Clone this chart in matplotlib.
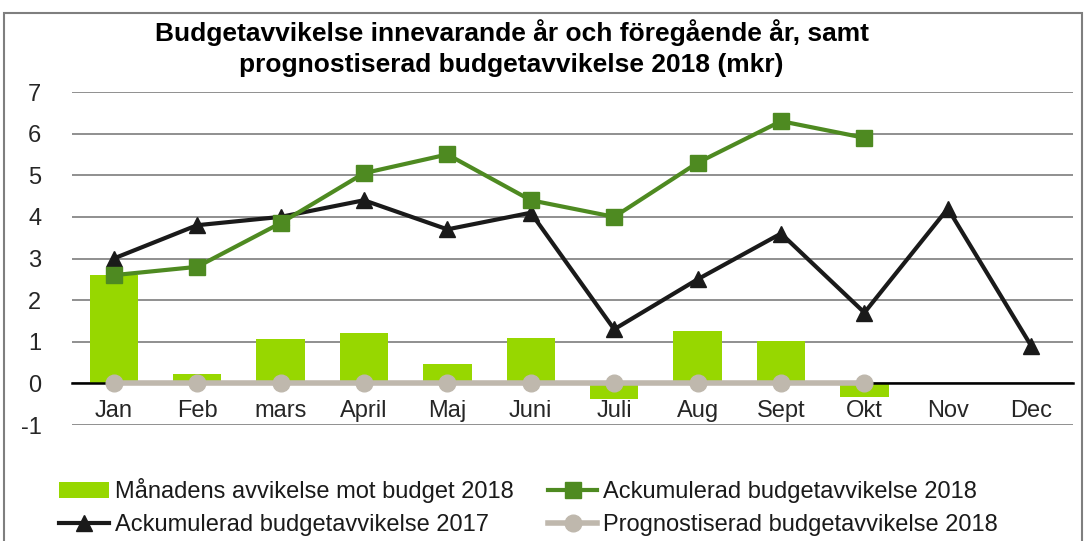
import matplotlib.pyplot as plt
from matplotlib.patches import Rectangle

plt.rcParams['font.family'] = ['Liberation Sans', 'DejaVu Sans']
plt.rcParams['axes.unicode_minus'] = False

# data (mkr)
manader = ['Jan', 'Feb', 'mars', 'April', 'Maj', 'Juni', 'Juli', 'Aug', 'Sept', 'Okt', 'Nov', 'Dec']
avvikelse_2018 = [2.61, 0.22, 1.06, 1.22, 0.46, 1.10, -0.38, 1.25, 1.01, -0.33]
ack_2018 = [2.6, 2.8, 3.85, 5.05, 5.5, 4.4, 4.0, 5.3, 6.3, 5.9]
ack_2017 = [3.0, 3.8, 4.0, 4.4, 3.7, 4.1, 1.3, 2.5, 3.6, 1.7, 4.2, 0.9]
prognos_2018 = [0, 0, 0, 0, 0, 0, 0, 0, 0, 0]

fig = plt.figure(figsize=(10.86, 5.41), dpi=100)
ax = fig.add_axes([0.0663, 0.2144, 0.9217, 0.6155])

x = list(range(len(manader)))
n = len(avvikelse_2018)

ax.bar(x[:n], avvikelse_2018, width=0.58, color='#97D700', zorder=2,
       label='Månadens avvikelse mot budget 2018')
ax.plot(x, ack_2017, color='#1a1a1a', lw=3, marker='^', ms=11, zorder=4,
        label='Ackumulerad budgetavvikelse 2017')
ax.plot(x[:n], ack_2018, color='#4E8A21', lw=3, marker='s', ms=11, zorder=5,
        label='Ackumulerad budgetavvikelse 2018')
ax.plot(x[:n], prognos_2018, color='#BFB8AD', lw=4, marker='o', ms=12, zorder=6,
        label='Prognostiserad budgetavvikelse 2018')

# axlar och rutnät
ax.set_xlim(-0.5, len(manader) - 0.5)
ax.set_ylim(-1, 7)
ax.set_yticks(range(-1, 8))
ax.yaxis.grid(True, color='#878787', lw=1.3, zorder=0)
ax.set_axisbelow(True)
for s in ['left', 'right', 'top']:
    ax.spines[s].set_visible(False)
ax.spines['bottom'].set_position(('data', 0))
ax.spines['bottom'].set_color('black')
ax.spines['bottom'].set_linewidth(1.8)
ax.spines['bottom'].set_zorder(3)
ax.set_xticks(x)
ax.set_xticklabels(manader)
ax.tick_params(axis='x', length=0, pad=12, labelsize=17, labelcolor='#262626')
ax.tick_params(axis='y', length=0, pad=22, labelsize=17, labelcolor='#262626')

# titel
fig.text(0.471, 0.911, 'Budgetavvikelse innevarande år och föregående år, samt\n'
         'prognostiserad budgetavvikelse 2018 (mkr)',
         ha='center', va='center', fontsize=19, fontweight='bold', linespacing=1.4)

# legend
h, l = ax.get_legend_handles_labels()
order = [3, 0, 1, 2]
fig.legend([h[i] for i in order], [l[i] for i in order], ncol=2, frameon=False,
           loc='lower left', bbox_to_anchor=(0.046, -0.008), borderaxespad=0.2, borderpad=0.2,
           fontsize=17, handlelength=2.1, handletextpad=0.25, columnspacing=1.45,
           labelspacing=0.45, labelcolor='#1a1a1a')

# ram runt figuren
fig.patches.append(Rectangle((0.004, -0.05), 0.992, 1.026, transform=fig.transFigure,
                             fill=False, edgecolor='#7f7f7f', lw=1.5))

plt.savefig('out.png', dpi=100)
